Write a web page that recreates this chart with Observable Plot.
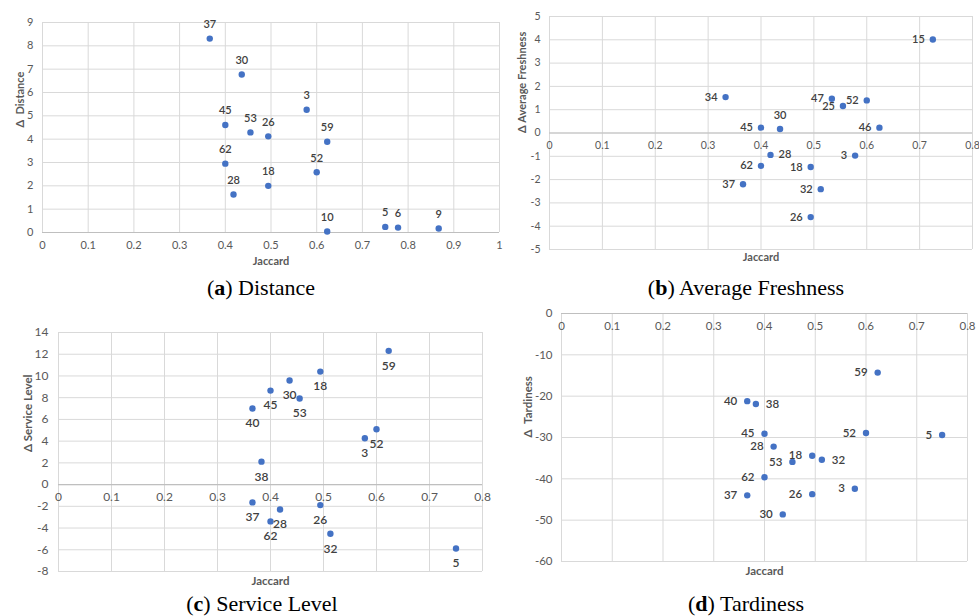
<!DOCTYPE html>
<html><head><meta charset="utf-8">
<script src="https://cdn.jsdelivr.net/npm/d3@7"></script>
<script src="https://cdn.jsdelivr.net/npm/@observablehq/plot@0.6"></script>
<style>
body{margin:0;background:#fff;}
#root{position:relative;width:979px;height:616px;overflow:hidden;background:#fff;}
.panel{position:absolute;}
.cap{position:absolute;font-family:"Liberation Serif","DejaVu Serif",serif;font-size:22px;color:#000;transform:translate(-50%,-50%);white-space:nowrap;line-height:1;}
</style></head><body><div id="root"></div>
<script>
// ---- data ----
const distIds = [37, 30, 3, 45, 53, 26, 59, 62, 52, 18, 28, 10, 5, 6, 9];
const distJac = [0.366, 0.436, 0.578, 0.400, 0.455, 0.494, 0.623, 0.400, 0.600, 0.494, 0.418, 0.623, 0.750, 0.778, 0.867];
const distVal = [8.31, 6.77, 5.26, 4.61, 4.29, 4.12, 3.89, 2.95, 2.58, 2.00, 1.63, 0.04, 0.24, 0.21, 0.17];

const freshIds = [15, 34, 47, 52, 25, 30, 45, 46, 28, 3, 62, 18, 37, 32, 26];
const freshJac = [0.725, 0.333, 0.534, 0.600, 0.555, 0.436, 0.400, 0.624, 0.418, 0.578, 0.400, 0.494, 0.366, 0.513, 0.494];
const freshVal = [4.01, 1.54, 1.47, 1.40, 1.16, 0.17, 0.23, 0.23, -0.94, -0.97, -1.41, -1.46, -2.20, -2.41, -3.61];

const servIds = [59, 18, 30, 45, 53, 40, 52, 3, 38, 37, 26, 28, 62, 32, 5];
const servJac = [0.623, 0.494, 0.436, 0.400, 0.455, 0.366, 0.600, 0.578, 0.383, 0.366, 0.494, 0.418, 0.400, 0.513, 0.750];
const servVal = [12.31, 10.40, 9.58, 8.65, 7.92, 7.00, 5.09, 4.26, 2.11, -1.64, -1.89, -2.29, -3.39, -4.53, -5.88];

const tardIds = [59, 40, 38, 45, 52, 5, 28, 18, 32, 53, 62, 3, 26, 37, 30];
const tardJac = [0.623, 0.366, 0.383, 0.400, 0.600, 0.750, 0.418, 0.494, 0.513, 0.455, 0.400, 0.578, 0.494, 0.366, 0.436];
const tardVal = [-14.3, -21.2, -21.9, -29.1, -28.9, -29.4, -32.2, -34.4, -35.4, -35.9, -39.6, -42.4, -43.7, -44.0, -48.6];

const xTicks10 = [0, 0.1, 0.2, 0.3, 0.4, 0.5, 0.6, 0.7, 0.8, 0.9, 1];
const xTicks8 = [0, 0.1, 0.2, 0.3, 0.4, 0.5, 0.6, 0.7, 0.8];
const distTicks = [0, 1, 2, 3, 4, 5, 6, 7, 8, 9];
const freshTicks = [-5, -4, -3, -2, -1, 0, 1, 2, 3, 4, 5];
const servTicks = [-8, -6, -4, -2, 0, 2, 4, 6, 8, 10, 12, 14];
const tardTicks = [-60, -50, -40, -30, -20, -10, 0];

const captions = [
  {tag: "a", text: "Distance", x: 261, y: 288},
  {tag: "b", text: "Average Freshness", x: 746, y: 288},
  {tag: "c", text: "Service Level", x: 262, y: 604},
  {tag: "d", text: "Tardiness", x: 746, y: 604}
];

// label placement (style config)
const sideB = {30: "top", 28: "right"};
const sideD = {38: "right", 32: "right"};

// ---- drawing ----
const BLUE = "#4472C4", GRID = "#d9d9d9", TICK = "#595959", LAB = "#404040";
const FONT = "Lato, 'Open Sans', sans-serif";
const root = document.getElementById("root");

function zip(ids, jac, val) { return ids.map((id, i) => ({id, x: jac[i], y: val[i]})); }

function panel(o) {
  const data = zip(o.ids, o.jac, o.val);
  const marks = [
    Plot.ruleX(o.xTicks, {x: d => d, stroke: GRID, strokeWidth: 1}),
    Plot.ruleY(o.yTicks, {y: d => d, stroke: GRID, strokeWidth: 1}),
    Plot.ruleY([0], {y: d => d, stroke: "#bfbfbf", strokeWidth: 1.2}),
    Plot.axisY({ticks: o.yTicks, tickSize: 0, tickPadding: o.yPad, tickFormat: d => String(d), label: null, fontSize: o.tickFont, fill: TICK}),
    Plot.text(o.xTicks, {x: d => d, y: () => o.xAxisAt, text: d => String(d), dy: o.xDy, lineAnchor: "middle", fill: TICK, fontSize: o.tickFont}),
    Plot.text(["Jaccard"], {frameAnchor: "bottom", text: d => d, dy: o.jacDy, lineAnchor: "middle", fill: TICK, fontWeight: "bold", fontSize: o.titleFont}),
    Plot.text([o.yTitle], {frameAnchor: "left", text: d => d, rotate: -90, dx: o.yTitleDx, lineAnchor: "middle", fill: TICK, fontWeight: "bold", fontSize: o.titleFont}),
    Plot.dot(data, {x: "x", y: "y", r: 3.2, fill: BLUE, stroke: "none"})
  ];
  const side = d => (o.sides && o.sides[d.id]) || o.defaultSide;
  const groups = {
    top: {dy: -14, textAnchor: "middle"},
    bottom: {dy: 15, textAnchor: "middle"},
    left: {dx: -o.sideGap, textAnchor: "end"},
    right: {dx: o.sideGap, textAnchor: "start"}
  };
  for (const [k, g] of Object.entries(groups)) {
    const sub = data.filter(d => side(d) === k);
    if (sub.length) marks.push(Plot.text(sub, {x: "x", y: "y", text: d => String(d.id), lineAnchor: "middle", fill: LAB, fontWeight: 600, fontSize: o.labFont, ...g}));
  }
  const chart = Plot.plot({
    width: o.w, height: o.h,
    marginLeft: o.ml, marginRight: o.mr, marginTop: o.mt, marginBottom: o.mb,
    x: {domain: o.xDomain, axis: null},
    y: {domain: o.yDomain, axis: null},
    style: {fontFamily: FONT, background: "transparent", overflow: "visible"},
    marks
  });
  chart.classList.add("panel");
  chart.style.left = o.left + "px";
  chart.style.top = o.top + "px";
  root.appendChild(chart);
}

panel({ids: distIds, jac: distJac, val: distVal, xTicks: xTicks10, yTicks: distTicks,
  xDomain: [0, 1], yDomain: [0, 9], xAxisAt: 0, yTitle: "Δ  Distance",
  left: 0, top: 0, w: 505, h: 270, ml: 42, mr: 6, mt: 22, mb: 38,
  yPad: 9, xDy: 13, jacDy: 29, yTitleDx: -22, tickFont: 11, titleFont: 11, labFont: 11,
  defaultSide: "top", sideGap: 8});

panel({ids: freshIds, jac: freshJac, val: freshVal, xTicks: xTicks8, yTicks: freshTicks,
  xDomain: [0, 0.8], yDomain: [-5, 5], xAxisAt: 0, yTitle: "Δ Average Freshness",
  left: 490, top: 0, w: 489, h: 270, ml: 59, mr: 7, mt: 16, mb: 21,
  yPad: 9, xDy: 13, jacDy: 8, yTitleDx: -27, tickFont: 10.5, titleFont: 11, labFont: 11,
  defaultSide: "left", sides: sideB, sideGap: 8});

panel({ids: servIds, jac: servJac, val: servVal, xTicks: xTicks8, yTicks: servTicks,
  xDomain: [0, 0.8], yDomain: [-8, 14], xAxisAt: 0, yTitle: "Δ Service Level",
  left: 0, top: 310, w: 490, h: 280, ml: 58, mr: 8, mt: 22, mb: 19,
  yPad: 10, xDy: 13, jacDy: 10, yTitleDx: -30, tickFont: 12, titleFont: 11.5, labFont: 12,
  defaultSide: "bottom", sideGap: 8});

panel({ids: tardIds, jac: tardJac, val: tardVal, xTicks: xTicks8, yTicks: tardTicks,
  xDomain: [0, 0.8], yDomain: [-60, 0], xAxisAt: 0, yTitle: "Δ  Tardiness",
  left: 490, top: 300, w: 489, h: 290, ml: 71, mr: 12, mt: 13, mb: 29,
  yPad: 9, xDy: 13, jacDy: 10, yTitleDx: -33, tickFont: 11.5, titleFont: 11.5, labFont: 11.5,
  defaultSide: "left", sides: sideD, sideGap: 10});

for (const c of captions) {
  const div = document.createElement("div");
  div.className = "cap";
  div.style.left = c.x + "px";
  div.style.top = c.y + "px";
  const b = document.createElement("b");
  b.textContent = c.tag;
  div.append("(", b, ") " + c.text);
  root.appendChild(div);
}
</script></body></html>
